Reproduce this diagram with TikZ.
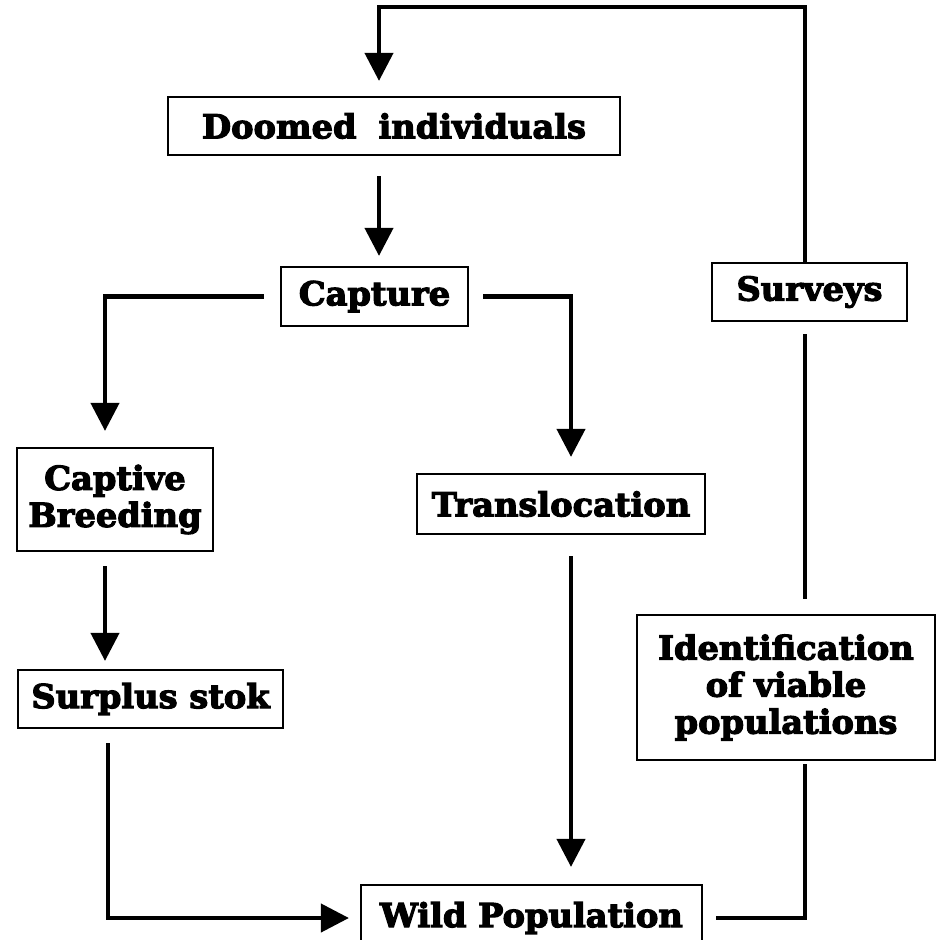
\documentclass[tikz,border=0pt]{standalone}
\usepackage{fontspec}
\newfontfamily\boxfont{DejaVu Serif}[FakeStretch=1.02,BoldFeatures={FakeBold=3.5}]
\usetikzlibrary{arrows.meta}
\begin{document}
\begin{tikzpicture}[x=1pt,y=-1pt,
  box/.style={draw,line width=2.2pt,align=center,inner sep=0pt,
    font=\boxfont\bfseries\fontsize{33}{37}\selectfont},
  conn/.style={line width=4.2pt},
  arr/.style={conn,-{Triangle[width=28pt,length=28pt]}}]
\useasboundingbox (0,0) rectangle (943,940);
\clip (0,0) rectangle (943,940);
\fill[white] (0,0) rectangle (943,940);
% columns
\coordinate (cA) at (379,0);
\coordinate (cL) at (105,0);
\coordinate (cL2) at (108,0);
\coordinate (cM) at (571,0);
\coordinate (cR) at (805,0);
\coordinate (topy) at (0,7);
% nodes
\node[box,minimum width=452pt,minimum height=58pt] (doomed) at (394,126) {Doomed\hspace{22pt}individuals};
\node[box,minimum width=187pt,minimum height=59pt] (capture) at (374.5,296.5) {Capture};
\node[box,minimum width=196pt,minimum height=103pt] (captive) at (115,499.5) {Captive\\Breeding};
\node[box,minimum width=288pt,minimum height=60pt] (transl) at (561,504) {Translocation};
\node[box,minimum width=265pt,minimum height=58pt] (surplus) at (150.5,699) {Surplus stok};
\node[box,minimum width=341pt,minimum height=66pt] (wild) at (531.5,918) {Wild Population};
\node[box,minimum width=195pt,minimum height=58pt] (surveys) at (809.5,292) {Surveys};
\node[box,minimum width=298pt,minimum height=145pt] (ident) at (786,687.5) {Identification\\of viable\\populations};
% connectors
\draw[arr,shorten >=15pt] (surveys.north -| cR) -- (cR |- topy) -| (doomed.north -| cA);
\draw[arr,shorten <=20pt,shorten >=10pt] (doomed.south -| cA) -- (capture.north -| cA);
\draw[arr,shorten <=16pt,shorten >=16pt] (capture.west) -| (captive.north -| cL);
\draw[arr,shorten <=14pt,shorten >=16pt] (capture.east) -| (transl.north -| cM);
\draw[arr,shorten <=14pt,shorten >=8pt] (captive.south -| cL) -- (surplus.north -| cL);
\draw[arr,shorten <=14pt,shorten >=11pt] (surplus.south -| cL2) |- (wild.west);
\draw[arr,shorten <=21pt,shorten >=17pt] (transl.south -| cM) -- (wild.north -| cM);
\draw[conn,shorten <=13pt,shorten >=3pt] (wild.east) -| (ident.south -| cR);
\draw[conn,shorten <=15pt,shorten >=12pt] (ident.north -| cR) -- (surveys.south -| cR);
\end{tikzpicture}
\end{document}
